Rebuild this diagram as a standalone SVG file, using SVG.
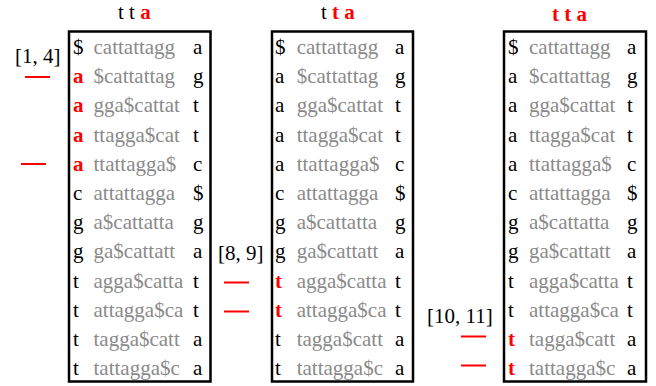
<svg xmlns="http://www.w3.org/2000/svg" width="656" height="386" viewBox="0 0 656 386">
<style>
text{font-family:'Liberation Serif','DejaVu Serif',serif;font-size:21px;fill:#000}
.g{fill:#8a8a8a}
.r{fill:#ff0000;font-weight:bold}
.box{fill:#fff;stroke:#000;stroke-width:2.5}
.dash{stroke:#ff0000;stroke-width:2}
</style>
<rect width="656" height="386" fill="#fff"/>
<g id="titles">
<text x="118" y="19">t t <tspan class="r">a</tspan></text>
<text x="321" y="19">t <tspan class="r">t a</tspan></text>
<text x="552" y="21" class="r">t t a</text>
</g>
<g id="matrix1">
<rect class="box" x="69" y="31.5" width="141.5" height="350"/>
<text x="73" y="54">$</text><text class="g" x="93.5" y="54">cattattagg</text><text x="193" y="54">a</text>
<text class="r" x="73" y="83.2">a</text><text class="g" x="93.5" y="83.2">$cattattag</text><text x="193" y="83.2">g</text>
<text class="r" x="73" y="112.4">a</text><text class="g" x="93.5" y="112.4">gga$cattat</text><text x="193" y="112.4">t</text>
<text class="r" x="73" y="141.6">a</text><text class="g" x="93.5" y="141.6">ttagga$cat</text><text x="193" y="141.6">t</text>
<text class="r" x="73" y="170.8">a</text><text class="g" x="93.5" y="170.8">ttattagga$</text><text x="193" y="170.8">c</text>
<text x="73" y="200">c</text><text class="g" x="93.5" y="200">attattagga</text><text x="193" y="200">$</text>
<text x="73" y="229.2">g</text><text class="g" x="93.5" y="229.2">a$cattatta</text><text x="193" y="229.2">g</text>
<text x="73" y="258.4">g</text><text class="g" x="93.5" y="258.4">ga$cattatt</text><text x="193" y="258.4">a</text>
<text x="73" y="287.6">t</text><text class="g" x="93.5" y="287.6">agga$catta</text><text x="193" y="287.6">t</text>
<text x="73" y="316.8">t</text><text class="g" x="93.5" y="316.8">attagga$ca</text><text x="193" y="316.8">t</text>
<text x="73" y="346">t</text><text class="g" x="93.5" y="346">tagga$catt</text><text x="193" y="346">a</text>
<text x="73" y="375.2">t</text><text class="g" x="93.5" y="375.2">tattagga$c</text><text x="193" y="375.2">a</text>
</g>
<g id="matrix2">
<rect class="box" x="272" y="31.5" width="141" height="350"/>
<text x="275" y="54">$</text><text class="g" x="296.7" y="54">cattattagg</text><text x="395" y="54">a</text>
<text x="275" y="83.2">a</text><text class="g" x="296.7" y="83.2">$cattattag</text><text x="395" y="83.2">g</text>
<text x="275" y="112.4">a</text><text class="g" x="296.7" y="112.4">gga$cattat</text><text x="395" y="112.4">t</text>
<text x="275" y="141.6">a</text><text class="g" x="296.7" y="141.6">ttagga$cat</text><text x="395" y="141.6">t</text>
<text x="275" y="170.8">a</text><text class="g" x="296.7" y="170.8">ttattagga$</text><text x="395" y="170.8">c</text>
<text x="275" y="200">c</text><text class="g" x="296.7" y="200">attattagga</text><text x="395" y="200">$</text>
<text x="275" y="229.2">g</text><text class="g" x="296.7" y="229.2">a$cattatta</text><text x="395" y="229.2">g</text>
<text x="275" y="258.4">g</text><text class="g" x="296.7" y="258.4">ga$cattatt</text><text x="395" y="258.4">a</text>
<text class="r" x="275" y="287.6">t</text><text class="g" x="296.7" y="287.6">agga$catta</text><text x="395" y="287.6">t</text>
<text class="r" x="275" y="316.8">t</text><text class="g" x="296.7" y="316.8">attagga$ca</text><text x="395" y="316.8">t</text>
<text x="275" y="346">t</text><text class="g" x="296.7" y="346">tagga$catt</text><text x="395" y="346">a</text>
<text x="275" y="375.2">t</text><text class="g" x="296.7" y="375.2">tattagga$c</text><text x="395" y="375.2">a</text>
</g>
<g id="matrix3">
<rect class="box" x="504" y="31.5" width="142" height="350"/>
<text x="508" y="54">$</text><text class="g" x="529" y="54">cattattagg</text><text x="627" y="54">a</text>
<text x="508" y="83.2">a</text><text class="g" x="529" y="83.2">$cattattag</text><text x="627" y="83.2">g</text>
<text x="508" y="112.4">a</text><text class="g" x="529" y="112.4">gga$cattat</text><text x="627" y="112.4">t</text>
<text x="508" y="141.6">a</text><text class="g" x="529" y="141.6">ttagga$cat</text><text x="627" y="141.6">t</text>
<text x="508" y="170.8">a</text><text class="g" x="529" y="170.8">ttattagga$</text><text x="627" y="170.8">c</text>
<text x="508" y="200">c</text><text class="g" x="529" y="200">attattagga</text><text x="627" y="200">$</text>
<text x="508" y="229.2">g</text><text class="g" x="529" y="229.2">a$cattatta</text><text x="627" y="229.2">g</text>
<text x="508" y="258.4">g</text><text class="g" x="529" y="258.4">ga$cattatt</text><text x="627" y="258.4">a</text>
<text x="508" y="287.6">t</text><text class="g" x="529" y="287.6">agga$catta</text><text x="627" y="287.6">t</text>
<text x="508" y="316.8">t</text><text class="g" x="529" y="316.8">attagga$ca</text><text x="627" y="316.8">t</text>
<text class="r" x="508" y="346">t</text><text class="g" x="529" y="346">tagga$catt</text><text x="627" y="346">a</text>
<text class="r" x="508" y="375.2">t</text><text class="g" x="529" y="375.2">tattagga$c</text><text x="627" y="375.2">a</text>
</g>
<g id="ranges">
<text x="15" y="63">[1, 4]</text>
<text x="218" y="260">[8, 9]</text>
<text x="427" y="323">[10, 11]</text>
</g>
<g id="connectors">
<line class="dash" x1="25" y1="77" x2="50" y2="77"/>
<line class="dash" x1="21" y1="164" x2="46" y2="164"/>
<line class="dash" x1="224" y1="282.5" x2="249" y2="282.5"/>
<line class="dash" x1="224" y1="311.5" x2="249" y2="311.5"/>
<line class="dash" x1="461" y1="336.5" x2="486" y2="336.5"/>
<line class="dash" x1="461" y1="365.5" x2="486" y2="365.5"/>
</g>
</svg>
